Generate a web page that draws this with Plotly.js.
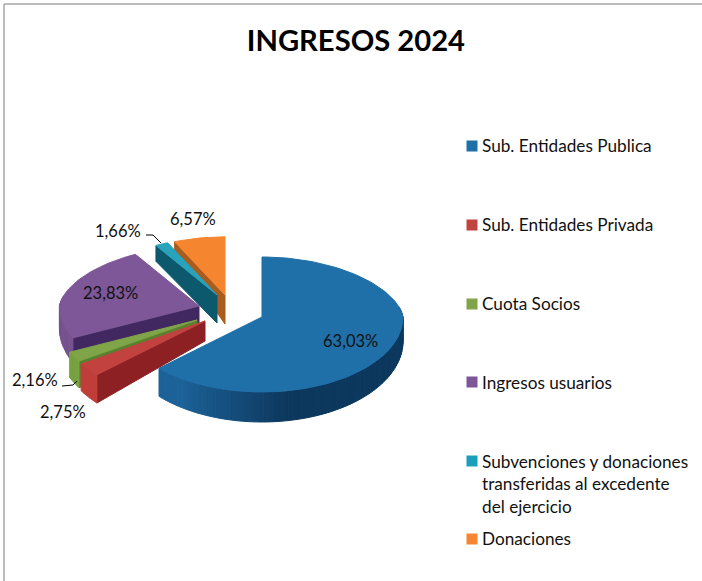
<!DOCTYPE html>
<html><head><meta charset="utf-8">
<script src="https://cdn.plot.ly/plotly-3.0.1.min.js"></script>
<style>html,body{margin:0;padding:0;background:#fff;overflow:hidden}#c{width:702px;height:581px}</style>
</head><body><div id="c"></div>
<script>
const categories = ["Sub. Entidades Publica","Sub. Entidades Privada","Cuota Socios","Ingresos usuarios","Subvenciones y donaciones<br>transferidas al excedente<br>del ejercicio","Donaciones"];
const values = [63.03,2.75,2.16,23.83,1.66,6.57];
const valueLabels = ["63,03%","2,75%","2,16%","23,83%","1,66%","6,57%"];
const titleText = "INGRESOS 2024";

// styling and layout
const topColors  = ["#1f6fa9","#c1423f","#7fa548","#7d5797","#28a3bb","#f5852f"];
const radialWall = [[20,80,130],[140,32,34],[90,130,46],[66,40,96],[12,88,108],[170,92,30]];
const arcLight   = [[28,98,152],[192,62,58],[118,162,64],[118,82,143],[12,88,108],[170,92,30]];
const arcDark    = [[13,56,94],[180,55,52],[110,150,60],[110,76,134],[12,88,108],[170,92,30]];
const legendColors = ["#1f6fa9","#c0433f","#7fa548","#7d5797","#1a9fb8","#f68634"];
const legendY = [146,225,304,382,461,539];
const legendTextY = [145,224,303,382,484,538];
const explode = [[262,317],[205,321],[197,320],[199,306],[217,295],[225,295]];
const radiusScale = [1,1.05,1,0.99,0.95,0.97];
const depthBase = [24,20,20,22,28,29];
const depthSlope = [6,12,12,6,14,20];
const labelPos = [[350,341],[63,412],[35,380],[110,293],[118,231],[193,219]];
const RX = 141, RY_BACK = 60, RY_FRONT = 75;

function pt(i, th, r, z){
  const [ax,ay] = explode[i];
  const t = th*Math.PI/180, c = Math.cos(t), s = Math.sin(t);
  const rs = r*radiusScale[i];
  const rx = RX*(1-0.09*Math.max(0,c));
  const ry = c>0 ? RY_BACK : RY_FRONT;
  const dep = z*(depthBase[i] + r*(-c)*depthSlope[i]);
  return [ax + rs*rx*s, ay - rs*ry*c + dep];
}
const rgb = a => "rgb("+a.map(v=>Math.round(Math.min(255,v))).join(",")+")";
const poly = (pts, color, name) => ({
  type:"scatter", mode:"lines", fill:"toself", fillcolor:color,
  x:pts.map(p=>p[0]).concat(pts[0][0]), y:pts.map(p=>p[1]).concat(pts[0][1]),
  line:{color:color,width:1}, showlegend:false, hoverinfo:name?"text":"skip", text:name||""
});

const total = values.reduce((a,b)=>a+b,0);
const traces = [];
let cum = 0;
const spans = values.map(v=>{const a=[cum/total*360,(cum+v)/total*360];cum+=v;return a;});
[5,4,3,2,1,0].forEach(i=>{
  const [a0,a1] = spans[i];
  if (Math.sin(a0*Math.PI/180) < 0) {
    traces.push(poly([pt(i,a0,0,0),pt(i,a0,1,0),pt(i,a0,1,1),pt(i,a0,0,1)], rgb(radialWall[i])));
  }
  const lo = Math.max(a0,80), hi = Math.min(a1,280);
  if (hi>lo) {
    const n = Math.max(2,Math.ceil((hi-lo)/2));
    for (let k=0;k<n;k++){
      const b0 = lo+(hi-lo)*k/n, b1 = lo+(hi-lo)*(k+1)/n, mid=(b0+b1)/2;
      const f = Math.max(0,Math.min(1,(mid-170)/45));
      const col = arcDark[i].map((d,j)=>d+(arcLight[i][j]-d)*f);
      traces.push(poly([pt(i,b0,1,0),pt(i,b1,1,0),pt(i,b1,1,1),pt(i,b0,1,1)], rgb(col)));
    }
  }
  const face = [pt(i,a0,0,0)];
  const m = Math.max(4,Math.ceil((a1-a0)/2));
  for (let k=0;k<=m;k++) face.push(pt(i,a0+(a1-a0)*k/m,1,0));
  traces.push(poly(face, topColors[i], categories[i].replace(/<br>/g," ")+": "+valueLabels[i]));
});

const leader = (x,y)=>({type:"scatter",mode:"lines",x:x,y:y,line:{color:"#000",width:1},showlegend:false,hoverinfo:"skip"});
traces.push(leader([146,153,161],[235,235,243]));
traces.push(leader([62,73,77],[386,385,381]));

traces.push({type:"scatter",mode:"markers",x:legendColors.map(()=>472),y:legendY,
  marker:{symbol:"square",size:11,color:legendColors,line:{width:0}},showlegend:false,hoverinfo:"skip"});

const labelFont = {family:"Lato, Carlito, sans-serif",size:16.5,color:"#111"};
const legendFont = {family:"Lato, Carlito, sans-serif",size:17.2,color:"#111"};
const annotations = [];
valueLabels.forEach((t,i)=>annotations.push({text:t,x:labelPos[i][0],y:labelPos[i][1],xref:"x",yref:"y",showarrow:false,font:labelFont,xanchor:"center",yanchor:"middle"}));
categories.forEach((t,i)=>annotations.push({text:t,x:479.5,y:legendTextY[i],xref:"x",yref:"y",showarrow:false,font:legendFont,xanchor:"left",yanchor:"middle",align:"left"}));

const layout = {
  width:702,height:581,margin:{l:0,r:0,t:0,b:0},paper_bgcolor:"#fff",plot_bgcolor:"#fff",
  title:{text:titleText,x:0.507,xanchor:"center",xref:"paper",y:0.9294,yanchor:"middle",yref:"container",
    font:{family:"Lato, Carlito, sans-serif",size:29.2,color:"#000",weight:700}},
  xaxis:{range:[0,702],visible:false,fixedrange:true},
  yaxis:{range:[581,0],visible:false,fixedrange:true},
  showlegend:false,annotations:annotations,
  shapes:[
    {type:"line",xref:"x",yref:"y",x0:4,x1:4,y0:4,y1:581,line:{color:"#a6a6a6",width:1.5}},
    {type:"line",xref:"x",yref:"y",x0:4,x1:702,y0:4,y1:4,line:{color:"#a6a6a6",width:1.5}}
  ]
};
Plotly.newPlot("c",traces,layout,{displayModeBar:false});
</script></body></html>
